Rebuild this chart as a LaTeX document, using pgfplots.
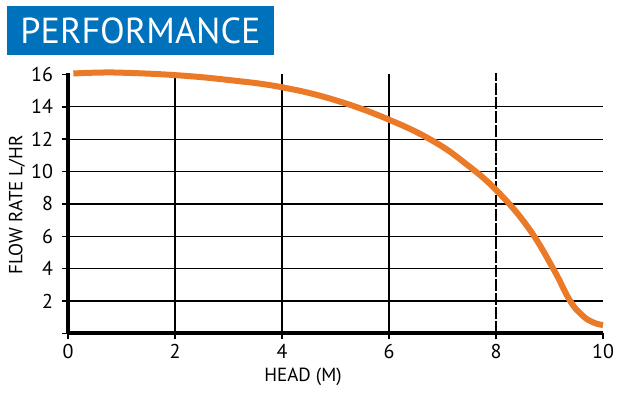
\documentclass[border=0pt]{standalone}
\usepackage{pgfplots}
\pgfplotsset{compat=1.18}
\usepackage{fontspec}
\setmainfont{PT Sans}
\definecolor{curveorange}{RGB}{234,122,40}
\definecolor{titleblue}{RGB}{0,114,188}
\begin{document}
\begin{tikzpicture}
\begin{axis}[
  anchor=origin, at={(0,0)},
  scale only axis,
  width=267.5pt, height=130.4pt,
  xmin=0, xmax=10, ymin=0, ymax=16.1,
  axis x line=bottom, axis y line=left,
  every outer x axis line/.append style={-},
  every outer y axis line/.append style={-},
  axis line style={line width=2pt, black},
  xtick={0,2,...,10}, ytick={0,2,...,16},
  yticklabels={,2,4,6,8,10,12,14,16},
  tick style={black, line width=0.8pt},
  major tick length=3pt,
  xtick pos=bottom, ytick pos=left,
  tick align=outside,
  /pgf/number format/assume math mode=true,
  ticklabel style={font=\fontsize{10}{12}\selectfont},
  xticklabel style={yshift=1pt},
  yticklabel style={xshift=-1pt},
  clip=false,
]
% grid lines
\foreach \yy in {2,4,...,14} {
  \edef\tmp{\noexpand\draw[black, line width=0.6pt] (axis cs:0,\yy) -- (axis cs:10,\yy);}\tmp
}
\foreach \xx in {2,4,6} {
  \edef\tmp{\noexpand\draw[black, line width=0.6pt] (axis cs:\xx,0) -- (axis cs:\xx,16);}\tmp
}
\draw[black, line width=0.8pt, dash pattern=on 6pt off 1pt] (axis cs:8,0) -- (axis cs:8,16.1);
\addplot[curveorange, line width=3pt, smooth, tension=0.7] coordinates {
 (0.1,16.05) (0.5,16.1) (1,16.1) (2,15.95) (3,15.65) (4,15.2) (5,14.4)
 (6,13.2) (6.83,11.87) (7.45,10.44) (8.02,8.8)
 (8.6,6.55) (9.07,4.0) (9.38,2.04)
 (9.62,1.1) (9.82,0.68) (10,0.52)
};
\end{axis}
\node[rotate=90, font=\fontsize{9.5}{11}\selectfont] at (-25.5pt,64.25pt) {FLOW RATE L/HR};
\node[font=\fontsize{9.5}{11}\selectfont] at (117.5pt,-21.75pt) {HEAD (M)};
\fill[titleblue] (-30.5pt,139.25pt) rectangle (103pt,163.75pt);
\node[white, inner sep=0pt] at (36.25pt,151.5pt) {\resizebox{120pt}{!}{PERFORMANCE}};
\pgfresetboundingbox
\useasboundingbox (-34pt,-30.25pt) rectangle (278.5pt,166.75pt);
\end{tikzpicture}
\end{document}
